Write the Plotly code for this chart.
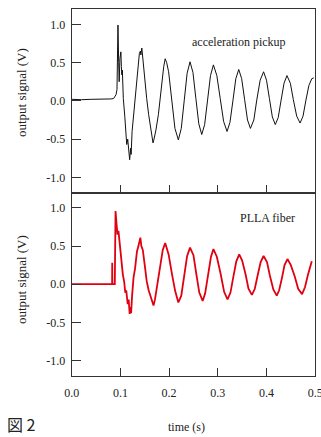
import plotly.graph_objects as go

# acceleration pickup (top)
acc_t = [0.0, 0.02, 0.04, 0.06, 0.08, 0.086, 0.089, 0.091, 0.093, 0.094, 0.095, 0.0965, 0.0975,
         0.099, 0.101, 0.102, 0.103, 0.104, 0.106, 0.109, 0.111, 0.113, 0.115, 0.117, 0.119,
         0.121, 0.122, 0.124, 0.127, 0.130, 0.134, 0.137, 0.139, 0.141, 0.142, 0.144, 0.145,
         0.147, 0.150, 0.154, 0.158, 0.161, 0.164, 0.167, 0.169, 0.173, 0.178, 0.182, 0.185,
         0.189, 0.192, 0.195, 0.199, 0.2055, 0.212, 0.219,
         0.225, 0.231, 0.237, 0.243, 0.249, 0.255, 0.261, 0.267, 0.273, 0.279, 0.285, 0.291,
         0.298, 0.305, 0.312, 0.319, 0.325, 0.331, 0.337, 0.343, 0.349, 0.355, 0.361, 0.367,
         0.374, 0.380, 0.387, 0.394, 0.400, 0.406, 0.412, 0.418, 0.424, 0.430, 0.436, 0.442,
         0.449, 0.455, 0.462, 0.469, 0.475, 0.481, 0.487, 0.493, 0.497]
acc_v = [0.02, 0.015, 0.02, 0.02, 0.025, 0.03, 0.06, 0.08, 0.15, 0.6, 0.99, 0.5, 0.25,
         0.55, 0.64, 0.45, 0.34, 0.40, 0.03, -0.2, -0.35, -0.57, -0.50, -0.70, -0.77,
         -0.62, -0.70, -0.40, -0.20, -0.05, 0.21, 0.40, 0.62, 0.65, 0.60, 0.69, 0.62,
         0.50, 0.30, 0.03, -0.18, -0.31, -0.45, -0.55, -0.50, -0.38, -0.18, 0.05, 0.25,
         0.45, 0.55, 0.50, 0.38, 0.01, -0.36, -0.51,
         -0.36, 0.0, 0.36, 0.51, 0.37, 0.03, -0.30, -0.44, -0.31, 0.01, 0.33, 0.47,
         0.33, 0.03, -0.27, -0.40, -0.28, 0.0, 0.29, 0.41, 0.29, 0.02, -0.25, -0.36,
         -0.25, 0.01, 0.27, 0.38, 0.27, 0.03, -0.21, -0.31, -0.22, 0.01, 0.23, 0.33,
         0.23, 0.02, -0.20, -0.29, -0.20, 0.01, 0.20, 0.29, 0.30]

# PLLA fiber (bottom)
plla_t = [0.0, 0.083, 0.0832, 0.0835, 0.0885, 0.0887, 0.0895, 0.090, 0.092, 0.094, 0.096,
          0.098, 0.101, 0.103, 0.105, 0.108, 0.110, 0.112, 0.115, 0.117, 0.119, 0.121, 0.122,
          0.124, 0.127, 0.130, 0.134, 0.137, 0.141, 0.143, 0.146, 0.150, 0.154, 0.158, 0.161,
          0.164, 0.168, 0.171, 0.175, 0.178, 0.182, 0.187, 0.192, 0.195, 0.199, 0.206, 0.2125,
          0.219, 0.225, 0.231, 0.237, 0.243, 0.250, 0.256, 0.262, 0.269, 0.274, 0.280, 0.286,
          0.291, 0.298, 0.306, 0.313, 0.320, 0.326, 0.332, 0.338, 0.344, 0.350, 0.357, 0.363,
          0.370, 0.376, 0.382, 0.388, 0.394, 0.401, 0.407, 0.414, 0.421, 0.426, 0.432, 0.437,
          0.443, 0.450, 0.458, 0.465, 0.473, 0.479, 0.485, 0.490, 0.493]
plla_v = [0.0, 0.0, 0.28, 0.0, 0.0, 0.28, 0.30, 0.96, 0.80, 0.65, 0.70,
          0.58, 0.33, 0.28, 0.13, 0.02, -0.11, -0.08, -0.26, -0.20, -0.39, -0.30, -0.38,
          -0.15, 0.09, 0.20, 0.43, 0.50, 0.61, 0.50, 0.45, 0.25, 0.04, -0.08, -0.15,
          -0.22, -0.28, -0.20, -0.04, 0.12, 0.30, 0.45, 0.54, 0.47, 0.39, 0.13, -0.09,
          -0.24, -0.15, 0.11, 0.37, 0.48, 0.38, 0.13, -0.11, -0.22, -0.12, 0.12, 0.36,
          0.46, 0.36, 0.13, -0.10, -0.20, -0.11, 0.10, 0.30, 0.39, 0.31, 0.13, -0.06,
          -0.14, -0.06, 0.12, 0.29, 0.37, 0.29, 0.11, -0.07, -0.15, -0.08, 0.09, 0.25,
          0.33, 0.25, 0.10, -0.06, -0.13, -0.04, 0.12, 0.25, 0.30]

x_ticks = [0.0, 0.1, 0.2, 0.3, 0.4, 0.5]
x_tick_text = ["0.0", "0.1", "0.2", "0.3", "0.4", "0.5"]
y_ticks = [-1.0, -0.5, 0.0, 0.5, 1.0]
y_tick_text = ["-1.0", "-0.5", "0.0", "0.5", "1.0"]

W, H = 321, 437
FONT = "Liberation Serif, Times New Roman, Times, DejaVu Serif, serif"
AX = "#333333"
TXT = "#222222"

fig = go.Figure()
fig.add_trace(go.Scatter(x=acc_t, y=acc_v, mode="lines",
                         line=dict(color="#111111", width=1.0), xaxis="x", yaxis="y"))
fig.add_trace(go.Scatter(x=plla_t, y=plla_v, mode="lines",
                         line=dict(color="#e00010", width=1.8), xaxis="x2", yaxis="y2"))

xd = [71.7 / W, 315.2 / W]
top_dom = [(H - 192.7) / H, (H - 9) / H]
bot_dom = [(H - 375.7) / H, (H - 192.7) / H]

common_x = dict(range=[0, 0.5], domain=xd, showline=True, linecolor=AX, linewidth=1,
                mirror=True, ticks="inside", ticklen=8, tickcolor=AX, automargin=False,
                ticklabeloverflow="allow", ticklabelstandoff=6,
                tickvals=x_ticks, ticktext=x_tick_text, showgrid=False, zeroline=False,
                tickfont=dict(family=FONT, size=12, color=TXT))
common_y = dict(range=[-1.2, 1.2], showline=True, linecolor=AX, linewidth=1,
                mirror=True, ticks="inside", ticklen=9, tickcolor=AX, automargin=False,
                ticklabeloverflow="allow", ticklabelstandoff=3,
                tickvals=y_ticks, ticktext=y_tick_text, showgrid=False, zeroline=False,
                tickfont=dict(family=FONT, size=12, color=TXT))


def ann(text, x, y, size=12, family=FONT, angle=0, xanchor="center"):
    return dict(text=text, x=x / W, y=(H - y) / H, xref="paper", yref="paper",
                showarrow=False, font=dict(family=family, size=size, color=TXT),
                textangle=angle, xanchor=xanchor, yanchor="middle", borderpad=0)


fig.update_layout(
    width=W, height=H, margin=dict(l=0, r=0, t=0, b=0, pad=0), autosize=False,
    paper_bgcolor="white", plot_bgcolor="white", showlegend=False,
    font=dict(family=FONT, size=12, color=TXT),
    xaxis=dict(common_x, anchor="y", showticklabels=False),
    yaxis=dict(common_y, domain=top_dom, anchor="x"),
    xaxis2=dict(common_x, anchor="y2"),
    yaxis2=dict(common_y, domain=bot_dom, anchor="x2"),
    annotations=[
        ann("acceleration pickup", 239, 42),
        ann("PLLA fiber", 267, 218),
        ann("output signal (V)", 21, 92, size=13, angle=-90),
        ann("output signal (V)", 21, 279, size=13, angle=-90),
        ann("time (s)", 187, 427),
        ann("図 2", 6, 424, size=16, family="Noto Sans CJK JP", xanchor="left"),
    ],
)

fig.write_html("out.html", config={"displayModeBar": False},
               post_script="document.body.style.margin='0';document.body.style.overflow='hidden';")
